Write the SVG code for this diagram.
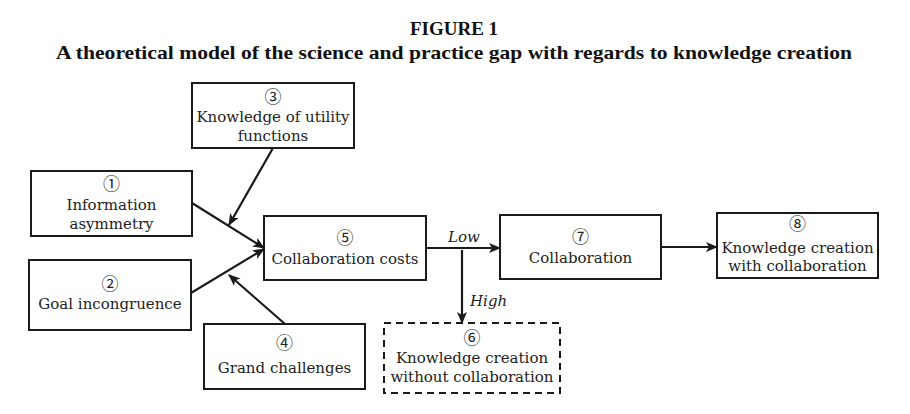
<svg xmlns="http://www.w3.org/2000/svg" width="910" height="414" viewBox="0 0 910 414">
<style>
.box{fill:#fff;stroke:#1a1a1a;stroke-width:2}
.dash{fill:#fff;stroke:#1a1a1a;stroke-width:2;stroke-dasharray:7 5}
.t{font-family:"DejaVu Serif","Liberation Serif",serif;font-size:15px;fill:#222;text-anchor:middle}
.d{font-family:"Noto Sans CJK JP","DejaVu Sans",sans-serif;font-size:17px;fill:#222;text-anchor:middle}
.lab{font-family:"DejaVu Serif","Liberation Serif",serif;font-size:15px;font-style:italic;fill:#222}
.title{font-family:"Liberation Serif","DejaVu Serif",serif;font-size:19px;font-weight:bold;fill:#111;text-anchor:middle}
.c{fill:none;stroke:#1a1a1a;stroke-width:2.2}
</style>
<defs>
<marker id="ah" markerUnits="userSpaceOnUse" markerWidth="12" markerHeight="10" refX="11" refY="5" orient="auto">
<path d="M0,0 L12,5 L0,10 L3,5 Z" fill="#1a1a1a"/>
</marker>
</defs>
<text class="title" x="454" y="35">FIGURE 1</text>
<text class="title" x="454" y="59" textLength="796" lengthAdjust="spacingAndGlyphs">A theoretical model of the science and practice gap with regards to knowledge creation</text>
<g id="connectors">
<line class="c" x1="192" y1="203" x2="264" y2="248" marker-end="url(#ah)"/>
<line class="c" x1="191" y1="293" x2="264" y2="249" marker-end="url(#ah)"/>
<line class="c" x1="273" y1="148" x2="229" y2="225" marker-end="url(#ah)"/>
<line class="c" x1="285" y1="324" x2="229" y2="275" marker-end="url(#ah)"/>
<line class="c" x1="426" y1="248" x2="500" y2="248" marker-end="url(#ah)"/>
<line class="c" x1="462" y1="250" x2="462" y2="323" marker-end="url(#ah)"/>
<line class="c" x1="661" y1="247" x2="717" y2="247" marker-end="url(#ah)"/>
<text class="lab" x="448" y="242">Low</text>
<text class="lab" x="470" y="306">High</text>
</g>
<g id="n1">
<rect class="box" x="31" y="171" width="161" height="65"/>
<text class="d" x="111.5" y="190">①</text>
<text class="t" x="111.5" y="210">Information</text>
<text class="t" x="111.5" y="229">asymmetry</text>
</g>
<g id="n2">
<rect class="box" x="29" y="260" width="162" height="70"/>
<text class="d" x="110" y="290">②</text>
<text class="t" x="110" y="309">Goal incongruence</text>
</g>
<g id="n3">
<rect class="box" x="192" y="83" width="162" height="65"/>
<text class="d" x="273" y="103">③</text>
<text class="t" x="273" y="122">Knowledge of utility</text>
<text class="t" x="273" y="141">functions</text>
</g>
<g id="n4">
<rect class="box" x="204" y="324" width="161" height="65"/>
<text class="d" x="284.5" y="349">④</text>
<text class="t" x="284.5" y="373">Grand challenges</text>
</g>
<g id="n5">
<rect class="box" x="264" y="216" width="162" height="64"/>
<text class="d" x="345" y="244">⑤</text>
<text class="t" x="345" y="264">Collaboration costs</text>
</g>
<g id="n6">
<rect class="dash" x="384" y="323" width="176" height="70"/>
<text class="d" x="472" y="344">⑥</text>
<text class="t" x="472" y="363">Knowledge creation</text>
<text class="t" x="472" y="382">without collaboration</text>
</g>
<g id="n7">
<rect class="box" x="500" y="215" width="161" height="64"/>
<text class="d" x="580.5" y="243">⑦</text>
<text class="t" x="580.5" y="263">Collaboration</text>
</g>
<g id="n8">
<rect class="box" x="717" y="213" width="161" height="65"/>
<text class="d" x="797.5" y="230">⑧</text>
<text class="t" x="797.5" y="253">Knowledge creation</text>
<text class="t" x="797.5" y="271">with collaboration</text>
</g>
</svg>
